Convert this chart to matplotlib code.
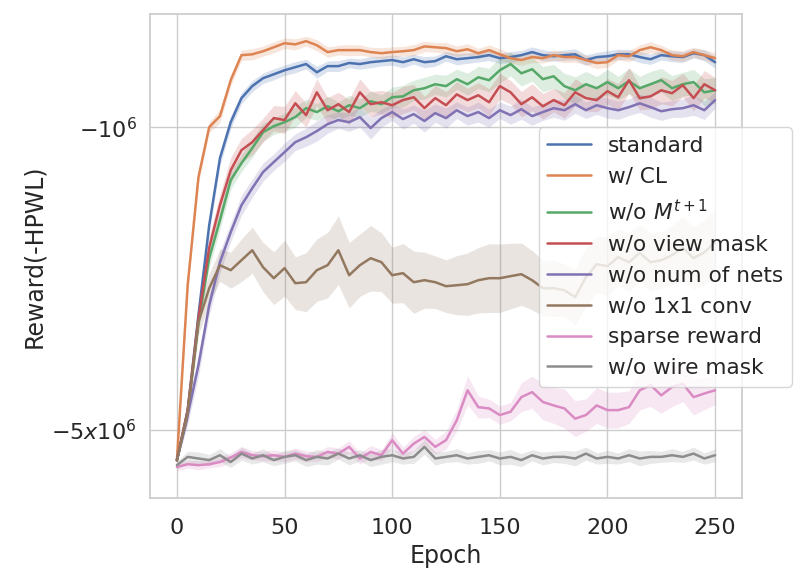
import numpy as np
import matplotlib
matplotlib.use("Agg")
import matplotlib.pyplot as plt
import seaborn as sns

# ---------------- data (reward in units of 1e6, read every 5 epochs) ----------------
epochs = list(range(0, 251, 5))

standard = [-5.874, -4.503, -2.717, -1.684, -1.179, -0.974, -0.857, -0.804, -0.771, -0.755,
            -0.739, -0.727, -0.715, -0.747, -0.723, -0.723, -0.711, -0.715, -0.708, -0.704,
            -0.700, -0.708, -0.697, -0.708, -0.704, -0.686, -0.697, -0.693, -0.689, -0.682,
            -0.693, -0.689, -0.682, -0.671, -0.682, -0.686, -0.682, -0.679, -0.700, -0.689,
            -0.686, -0.679, -0.679, -0.689, -0.697, -0.682, -0.686, -0.689, -0.675, -0.682,
            -0.708]
with_cl = [-5.874, -2.317, -1.305, -1.000, -0.943, -0.779, -0.682, -0.679, -0.668, -0.654,
           -0.640, -0.644, -0.633, -0.647, -0.671, -0.664, -0.664, -0.664, -0.671, -0.675,
           -0.671, -0.668, -0.664, -0.651, -0.654, -0.657, -0.668, -0.661, -0.675, -0.664,
           -0.679, -0.693, -0.700, -0.689, -0.693, -0.682, -0.689, -0.689, -0.700, -0.711,
           -0.708, -0.682, -0.686, -0.664, -0.654, -0.664, -0.682, -0.686, -0.671, -0.682,
           -0.693]
wo_m = [-5.874, -4.551, -2.822, -2.007, -1.640, -1.325, -1.211, -1.118, -1.027, -0.995,
        -0.974, -0.948, -0.904, -0.923, -0.895, -0.919, -0.890, -0.904, -0.871, -0.885,
        -0.853, -0.849, -0.822, -0.813, -0.796, -0.804, -0.775, -0.796, -0.767, -0.779,
        -0.739, -0.715, -0.751, -0.735, -0.775, -0.763, -0.804, -0.822, -0.796, -0.813,
        -0.787, -0.813, -0.783, -0.813, -0.796, -0.779, -0.813, -0.796, -0.787, -0.831,
        -0.822]
wo_view = [-5.874, -4.503, -2.763, -1.898, -1.514, -1.257, -1.130, -1.083, -1.016, -0.953,
           -0.963, -0.881, -0.938, -0.831, -0.914, -0.885, -0.923, -0.831, -0.885, -0.876,
           -0.890, -0.866, -0.853, -0.904, -0.857, -0.890, -0.840, -0.866, -0.844, -0.876,
           -0.804, -0.831, -0.885, -0.853, -0.895, -0.866, -0.890, -0.831, -0.857, -0.866,
           -0.826, -0.853, -0.779, -0.857, -0.849, -0.822, -0.835, -0.800, -0.857, -0.796,
           -0.822]
wo_nets = [-5.874, -4.624, -3.545, -2.577, -2.050, -1.748, -1.514, -1.383, -1.270, -1.204,
           -1.142, -1.083, -1.055, -1.021, -0.984, -0.963, -0.974, -0.948, -1.005, -0.953,
           -0.923, -0.958, -0.933, -0.968, -0.928, -0.953, -0.914, -0.943, -0.923, -0.953,
           -0.914, -0.938, -0.909, -0.943, -0.923, -0.904, -0.914, -0.885, -0.914, -0.890,
           -0.904, -0.914, -0.899, -0.881, -0.899, -0.919, -0.909, -0.904, -0.890, -0.914,
           -0.866]
wo_conv = [-5.874, -4.551, -2.822, -2.354, -2.083, -2.139, -2.028, -1.924, -2.105, -2.232,
           -2.116, -2.292, -2.280, -2.139, -2.083, -1.924, -2.197, -2.083, -2.007, -2.050,
           -2.197, -2.173, -2.280, -2.256, -2.280, -2.329, -2.317, -2.304, -2.256, -2.232,
           -2.232, -2.208, -2.185, -2.256, -2.354, -2.354, -2.379, -2.469, -2.220, -2.072,
           -2.094, -1.996, -2.050, -1.951, -2.050, -2.028, -1.975, -1.898, -2.007, -1.945,
           -1.843]
sparse = [-6.09, -6.00, -6.03, -6.00, -5.93, -5.79, -5.62, -5.72, -5.75, -5.72,
          -5.77, -5.67, -5.75, -5.77, -5.62, -5.67, -5.47, -5.82, -5.62, -5.72,
          -5.28, -5.67, -5.38, -5.19, -5.47, -5.28, -4.75, -4.05, -4.43, -4.46,
          -4.62, -4.54, -4.20, -4.09, -4.31, -4.39, -4.46, -4.71, -4.62, -4.39,
          -4.50, -4.50, -4.43, -4.05, -3.94, -4.16, -3.98, -3.91, -4.20, -4.12,
          -4.05]
wo_wire = [-6.03, -5.77, -5.82, -5.87, -5.72, -5.93, -5.67, -5.82, -5.72, -5.87,
           -5.77, -5.72, -5.87, -5.77, -5.82, -5.67, -5.82, -5.72, -5.87, -5.77,
           -5.72, -5.82, -5.77, -5.47, -5.82, -5.77, -5.72, -5.82, -5.77, -5.72,
           -5.82, -5.77, -5.87, -5.72, -5.82, -5.77, -5.77, -5.82, -5.67, -5.82,
           -5.77, -5.82, -5.72, -5.82, -5.77, -5.77, -5.72, -5.77, -5.67, -5.82,
           -5.72]

# relative half-spread of the confidence band around each mean
standard_ci = [0.01, 0.05, 0.05, 0.045, 0.04, 0.035, 0.03, 0.03, 0.028, 0.03,
               0.028, 0.03, 0.026, 0.032, 0.028, 0.03, 0.026, 0.028, 0.03, 0.026,
               0.028, 0.03, 0.026, 0.03, 0.028, 0.026, 0.03, 0.028, 0.026, 0.03,
               0.028, 0.03, 0.026, 0.028, 0.03, 0.026, 0.028, 0.03, 0.028, 0.026,
               0.03, 0.028, 0.026, 0.03, 0.028, 0.026, 0.03, 0.028, 0.026, 0.03,
               0.032]
with_cl_ci = [0.01, 0.04, 0.035, 0.03, 0.035, 0.03, 0.028, 0.03, 0.027, 0.03,
              0.028, 0.03, 0.026, 0.03, 0.028, 0.026, 0.03, 0.028, 0.026, 0.03,
              0.028, 0.026, 0.03, 0.028, 0.026, 0.03, 0.028, 0.03, 0.026, 0.028,
              0.03, 0.026, 0.028, 0.03, 0.026, 0.028, 0.03, 0.028, 0.026, 0.03,
              0.028, 0.026, 0.03, 0.028, 0.03, 0.026, 0.028, 0.03, 0.026, 0.028,
              0.03]
wo_m_ci = [0.01, 0.04, 0.05, 0.05, 0.05, 0.05, 0.045, 0.05, 0.05, 0.045,
           0.05, 0.055, 0.05, 0.045, 0.055, 0.05, 0.055, 0.05, 0.055, 0.05,
           0.055, 0.06, 0.055, 0.06, 0.055, 0.06, 0.055, 0.06, 0.06, 0.065,
           0.07, 0.065, 0.07, 0.065, 0.07, 0.065, 0.07, 0.075, 0.07, 0.065,
           0.07, 0.065, 0.07, 0.065, 0.07, 0.065, 0.07, 0.065, 0.07, 0.075,
           0.07]
wo_view_ci = [0.01, 0.05, 0.06, 0.06, 0.06, 0.07, 0.065, 0.07, 0.065, 0.07,
              0.075, 0.07, 0.065, 0.075, 0.07, 0.065, 0.07, 0.075, 0.07, 0.065,
              0.07, 0.075, 0.07, 0.065, 0.07, 0.075, 0.07, 0.065, 0.07, 0.075,
              0.07, 0.065, 0.07, 0.075, 0.07, 0.065, 0.07, 0.075, 0.07, 0.065,
              0.07, 0.075, 0.07, 0.065, 0.07, 0.075, 0.07, 0.065, 0.07, 0.075,
              0.07]
wo_nets_ci = [0.01, 0.05, 0.06, 0.055, 0.06, 0.05, 0.055, 0.05, 0.05, 0.045,
              0.05, 0.045, 0.05, 0.055, 0.05, 0.045, 0.05, 0.055, 0.06, 0.05,
              0.045, 0.055, 0.05, 0.06, 0.05, 0.055, 0.045, 0.05, 0.055, 0.05,
              0.045, 0.05, 0.055, 0.05, 0.045, 0.05, 0.055, 0.05, 0.045, 0.05,
              0.055, 0.05, 0.045, 0.05, 0.055, 0.05, 0.045, 0.05, 0.055, 0.05,
              0.045]
wo_conv_ci = [0.01, 0.05, 0.07, 0.08, 0.09, 0.10, 0.12, 0.13, 0.14, 0.15,
              0.16, 0.15, 0.17, 0.18, 0.19, 0.20, 0.19, 0.18, 0.19, 0.17,
              0.16, 0.17, 0.18, 0.16, 0.15, 0.15, 0.17, 0.18, 0.19, 0.20,
              0.20, 0.19, 0.18, 0.17, 0.16, 0.16, 0.15, 0.16, 0.17, 0.16,
              0.17, 0.16, 0.17, 0.16, 0.17, 0.16, 0.17, 0.18, 0.18, 0.19,
              0.19]
sparse_ci = [0.02, 0.02, 0.025, 0.02, 0.025, 0.025, 0.03, 0.025, 0.025, 0.03,
             0.025, 0.03, 0.03, 0.025, 0.03, 0.03, 0.035, 0.03, 0.035, 0.03,
             0.04, 0.035, 0.04, 0.04, 0.04, 0.05, 0.06, 0.08, 0.06, 0.05,
             0.05, 0.05, 0.08, 0.09, 0.10, 0.10, 0.11, 0.10, 0.09, 0.10,
             0.10, 0.10, 0.09, 0.11, 0.12, 0.10, 0.11, 0.10, 0.10, 0.09,
             0.08]
wo_wire_ci = [0.02, 0.03, 0.035, 0.03, 0.035, 0.03, 0.035, 0.03, 0.035, 0.03,
              0.035, 0.03, 0.035, 0.04, 0.035, 0.03, 0.035, 0.03, 0.035, 0.04,
              0.035, 0.03, 0.035, 0.04, 0.035, 0.03, 0.035, 0.03, 0.035, 0.03,
              0.035, 0.04, 0.035, 0.03, 0.035, 0.03, 0.035, 0.04, 0.035, 0.03,
              0.035, 0.03, 0.035, 0.04, 0.035, 0.03, 0.035, 0.03, 0.035, 0.03,
              0.035]

labels = ["standard", "w/ CL", "w/o $M^{t+1}$", "w/o view mask",
          "w/o num of nets", "w/o 1x1 conv", "sparse reward", "w/o wire mask"]
series = [standard, with_cl, wo_m, wo_view, wo_nets, wo_conv, sparse, wo_wire]
bands = [standard_ci, with_cl_ci, wo_m_ci, wo_view_ci, wo_nets_ci, wo_conv_ci,
         sparse_ci, wo_wire_ci]

x_ticks = [0, 50, 100, 150, 200, 250]
y_ticks = [-1.0, -5.0]
y_ticklabels = ["$-10^6$", "$-5x10^6$"]

# ---------------- plotting ----------------
sns.set_theme(style="whitegrid")
plt.rcParams["font.family"] = ["DejaVu Sans"]
colors = sns.color_palette("deep", 8)

fig = plt.figure(figsize=(8.06, 5.86), dpi=100)
ax = fig.add_axes([150 / 806, 1 - 498 / 586, 592 / 806, 484 / 586])

fwd = lambda y: -np.log10(np.clip(-np.asarray(y, dtype=float), 1e-9, None))
inv = lambda t: -10.0 ** (-np.asarray(t, dtype=float))
ax.set_yscale("function", functions=(fwd, inv))

x = np.array(epochs)
for vals, ci, lab, col in zip(series, bands, labels, colors):
    m = np.array(vals)
    f = np.array(ci)
    upper = m / (1 + f)
    lower = m * (1 + f)
    ax.fill_between(x, lower, upper, color=col, alpha=0.2, linewidth=0)
    ax.plot(x, m, color=col, lw=1.8, label=lab)

ax.set_xlim(-12.5, 262.5)
ax.set_ylim(-7.18, -0.548)
ax.set_xticks(x_ticks)
ax.set_yticks(y_ticks)
ax.set_yticklabels(y_ticklabels)
ax.yaxis.set_minor_locator(matplotlib.ticker.NullLocator())
ax.tick_params(axis="both", labelsize=16)
xpad = ax.xaxis.get_major_ticks()[0].get_pad()
ax.tick_params(axis="x", pad=xpad + 5)
ax.set_xlabel("Epoch", fontsize=17)
ax.set_ylabel("Reward(-HPWL)", fontsize=17)

ax.legend(loc="center right", bbox_to_anchor=(1.084, 0.498), borderaxespad=0,
          fontsize=15.6, frameon=True)

fig.savefig("out.png", dpi=100)
